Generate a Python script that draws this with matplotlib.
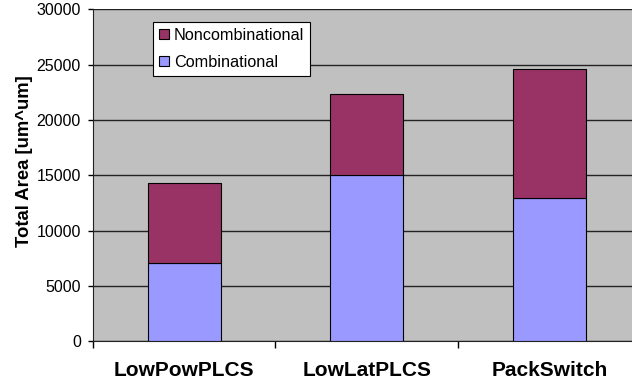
import matplotlib
matplotlib.use("Agg")
import matplotlib.pyplot as plt
import numpy as np

categories = ["LowPowPLCS", "LowLatPLCS", "PackSwitch"]
combinational = [7100, 15050, 12950]
noncombinational = [7200, 7300, 11650]
y_ticks = [0, 5000, 10000, 15000, 20000, 25000, 30000]

plt.rcParams['font.family'] = ['Liberation Sans', 'DejaVu Sans']

W, H = 632, 387
fig = plt.figure(figsize=(W / 100, H / 100), dpi=100)
ax = fig.add_axes([0.1467, 0.1181, 0.8676, 0.8576])
ax.set_facecolor('#C0C0C0')

x = np.arange(len(categories)) + 0.5
width = 0.4
b1 = ax.bar(x, combinational, width, color='#9999FF', edgecolor='#000000',
            linewidth=0.8, label='Combinational', zorder=3)
b2 = ax.bar(x, noncombinational, width, bottom=combinational, color='#993366',
            edgecolor='#000000', linewidth=0.8, label='Noncombinational', zorder=3)

ax.set_xlim(0, len(categories))
ax.set_ylim(0, 30000)
ax.set_yticks(y_ticks)
ax.set_yticklabels([str(t) for t in y_ticks], fontsize=11.5)
ax.set_xticks(np.arange(len(categories) + 1))
ax.set_xticklabels([])
ax.set_xticks(x, minor=True)
ax.set_xticklabels(categories, minor=True, fontsize=15, fontweight='bold')
ax.tick_params(axis='x', which='minor', length=0, pad=14)
ax.tick_params(axis='x', which='major', length=5, direction='out', width=1)
ax.tick_params(axis='y', length=3.5, direction='out', width=1, pad=5)

ax.yaxis.grid(True, color='#222222', linewidth=1, zorder=1)
for s in ['top', 'right']:
    ax.spines[s].set_visible(False)
ax.spines['left'].set_color('#222222')
ax.spines['bottom'].set_color('#222222')

fig.text(25 / W, 1 - 161 / H, 'Total Area [um^um]', rotation=90,
         fontsize=13.3, fontweight='bold', ha='center', va='center')

leg = ax.legend([b2, b1], ['Noncombinational', 'Combinational'],
                loc='upper left', bbox_to_anchor=((152.7 - 92.7) / 548.3, 1 - (21.7 - 9.4) / 331.9),
                fontsize=11.7, frameon=True, fancybox=False, edgecolor='#000000',
                handlelength=0.62, handleheight=0.62, handletextpad=0.3,
                borderpad=0.38, labelspacing=0.73, borderaxespad=0)
leg.get_frame().set_linewidth(0.8)
leg.get_frame().set_facecolor('white')
leg.get_frame().set_alpha(1)
leg.set_zorder(5)

fig.savefig('out.png', dpi=100)
